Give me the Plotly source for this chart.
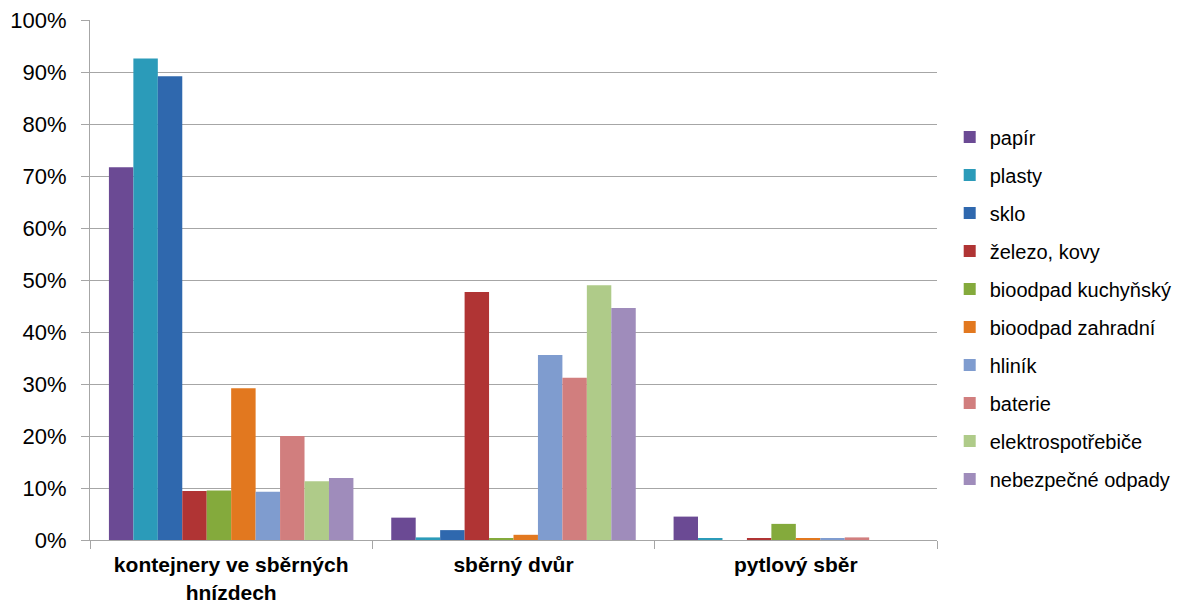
import plotly.graph_objects as go

categories = ["kontejnery ve sběrných<br>hnízdech", "sběrný dvůr", "pytlový sběr"]
series_names = ["papír", "plasty", "sklo", "železo, kovy", "bioodpad kuchyňský",
                "bioodpad zahradní", "hliník", "baterie", "elektrospotřebiče", "nebezpečné odpady"]
papir = [71.7, 4.3, 4.5]
plasty = [92.6, 0.5, 0.3]
sklo = [89.2, 1.9, 0.0]
zelezo = [9.4, 47.7, 0.3]
bio_kuch = [9.5, 0.3, 3.1]
bio_zahr = [29.2, 1.0, 0.3]
hlinik = [9.3, 35.6, 0.3]
baterie = [20.0, 31.2, 0.5]
elektro = [11.3, 49.0, 0.0]
nebezp = [11.9, 44.6, 0.0]
values = [papir, plasty, sklo, zelezo, bio_kuch, bio_zahr, hlinik, baterie, elektro, nebezp]
colors = ["#6B4A94", "#2B9BB9", "#2F68AE", "#B03434", "#84AA3C",
          "#E2781F", "#7F9CCF", "#D17E7E", "#AFCB89", "#9F8CBB"]

fig = go.Figure()
for i, (name, vals, col) in enumerate(zip(series_names, values, colors)):
    fig.add_trace(go.Bar(
        x=categories, y=[v / 100 for v in vals], name=name,
        marker=dict(color=col, line=dict(width=0)),
        legendgroup=f"g{i}",
    ))

fig.update_layout(
    width=1184, height=605,
    barmode="group", bargap=0.134, bargroupgap=0,
    plot_bgcolor="white", paper_bgcolor="white",
    margin=dict(l=82, r=255, t=12, b=73, autoexpand=False),
    font=dict(family="Liberation Sans, Arial, sans-serif", size=20, color="#000000"),
    legend=dict(x=1.015, y=0.446, xanchor="left", yanchor="middle",
                font=dict(size=20), tracegroupgap=9, itemwidth=30,
                bgcolor="rgba(0,0,0,0)"),
    yaxis=dict(range=[0, 1], tickvals=[i / 10 for i in range(11)],
               tickformat=".0%", showgrid=True, gridcolor="#A6A6A6", gridwidth=1,
               showline=True, linecolor="#A6A6A6", linewidth=1,
               ticks="outside", ticklen=8, tickcolor="#A6A6A6",
               ticklabelstandoff=10, ticklabeloverflow="allow", automargin=False,
               tickfont=dict(size=22), zeroline=False, fixedrange=True),
    xaxis=dict(showline=True, linecolor="#A6A6A6", linewidth=1,
               ticks="outside", ticklen=8, tickcolor="#A6A6A6",
               tickson="boundaries", tickfont=dict(size=21),
               ticklabelstandoff=6, ticklabeloverflow="allow", automargin=False,
               showgrid=False),
)
fig.update_xaxes(ticktext=[f"<b>{c}</b>" for c in categories], tickvals=categories)

fig.write_html("out.html")
